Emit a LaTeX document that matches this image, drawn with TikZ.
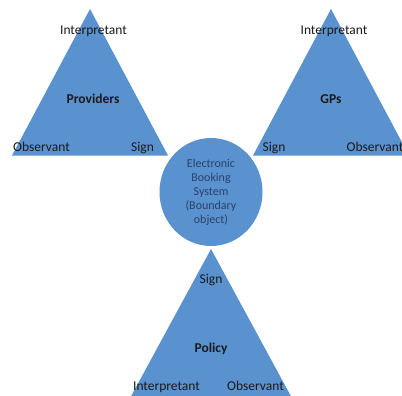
\documentclass[tikz,border=0pt]{standalone}
\usepackage{fontspec}
\setmainfont{Carlito}
\definecolor{shapeblue}{HTML}{5A91CF}
\definecolor{labelink}{HTML}{1A1A1A}
\definecolor{circink}{HTML}{2A426A}
\begin{document}
\begin{tikzpicture}[x=1pt,y=-1pt,
  shapefill/.style={fill=shapeblue,draw=none},
  lbl/.style={text=labelink,inner sep=0pt,anchor=base,font=\fontsize{13.5}{15}\selectfont},
  ttl/.style={text=labelink,inner sep=0pt,anchor=base,font=\fontsize{13.5}{15}\selectfont\bfseries},
  circtext/.style={text=circink,inner sep=0pt,anchor=base,font=\fontsize{12}{14}\selectfont}]
\useasboundingbox (0,0) rectangle (402,396);
\clip (0,0) rectangle (402,396);
% triangles
\fill[shapefill] (90,9) -- (12,155.5) -- (168,155.5) -- cycle;
\fill[shapefill] (331,9) -- (253,155.5) -- (409,155.5) -- cycle;
\fill[shapefill] (211,249) -- (129,400) -- (293,400) -- cycle;
% circle
\fill[shapefill] (211,192) ellipse [x radius=51.5, y radius=54];
% left triangle labels
\node[lbl] (lint) at (93.5,35) {Interpretant};
\node[ttl] (lprov) at (93,103) {Providers};
\node[lbl] (lobs) at (41.5,151) {Observant};
\node[lbl] (lsign) at (142.5,151) {Sign};
% right triangle labels
\node[lbl] (rint) at (334,35) {Interpretant};
\node[ttl] (rgps) at (331,103) {GPs};
\node[lbl] (rsign) at (274,151) {Sign};
\node[lbl,anchor=base west] (robs) at (346.5,151) {Observant};
% circle text
\node[circtext] (ebs1) at (211,167) {Electronic};
\node[circtext] (ebs2) at (211,181) {Booking};
\node[circtext] (ebs3) at (211,195) {System};
\node[circtext] (ebs4) at (211,209) {(Boundary};
\node[circtext] (ebs5) at (211,223) {object)};
% bottom triangle labels
\node[lbl] (bsign) at (211,283.5) {Sign};
\node[ttl] (bpol) at (211,352.5) {Policy};
\node[lbl] (bint) at (166.5,390.5) {Interpretant};
\node[lbl] (bobs) at (255.5,390.5) {Observant};
\end{tikzpicture}
\end{document}
